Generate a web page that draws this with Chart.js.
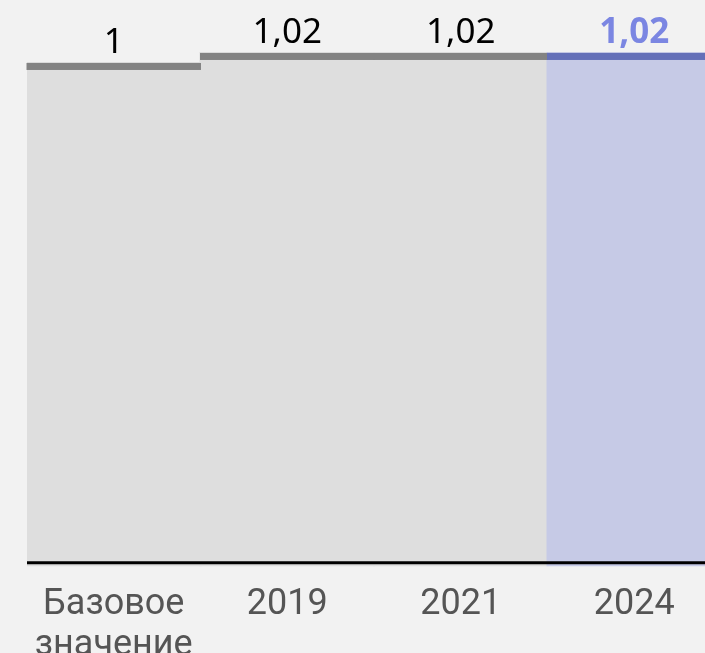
<!DOCTYPE html>
<html>
<head>
<meta charset="utf-8">
<script src="https://cdn.jsdelivr.net/npm/chart.js@4"></script>
<style>
  html, body { margin: 0; padding: 0; background: #f2f2f2; overflow: hidden; }
  #wrap { width: 730px; height: 685px; }
</style>
</head>
<body>
<div id="wrap"><canvas id="myChart"></canvas></div>
<script>
let categories = [['Базовое', 'значение'], '2019', '2021', '2024'];
let values = [1, 1.02, 1.02, 1.02];

let fillColors = ['#dedede', '#dedede', '#dedede', '#c6cae6'];
let topColors = ['#838383', '#838383', '#838383', '#6470b8'];
let labelColors = ['#000000', '#000000', '#000000', '#7b86e2'];

// top caps, black baseline and value labels drawn on top of the bars
let valueLabels = {
  id: 'valueLabels',
  afterDatasetsDraw(chart) {
    let ctx = chart.ctx;
    let meta = chart.getDatasetMeta(0);
    let area = chart.chartArea;
    let zeroY = chart.scales.y.getPixelForValue(0);
    ctx.save();
    meta.data.forEach(function(bar, i) {
      ctx.fillStyle = topColors[i];
      ctx.fillRect(bar.x - bar.width / 2 - 0.5, bar.y, bar.width + 1, 7);
    });

    ctx.strokeStyle = '#000000';
    ctx.lineWidth = 3;
    ctx.beginPath();
    ctx.moveTo(area.left, zeroY);
    ctx.lineTo(area.right, zeroY);
    ctx.stroke();

    ctx.textAlign = 'center';
    ctx.textBaseline = 'alphabetic';
    meta.data.forEach(function(bar, i) {
      let last = i == values.length - 1;
      ctx.font = (last ? 'bold ' : '') + '35px "Noto Sans"';
      ctx.fillStyle = labelColors[i];
      ctx.fillText(String(values[i]).replace('.', ','), bar.x, bar.y - 10);
    });
    ctx.restore();
  }
};

let ctx = document.getElementById('myChart');
let myChart = new Chart(ctx, {
  type: 'bar',
  data: {
    labels: categories,
    datasets: [{
      data: values,
      base: -0.007,
      backgroundColor: fillColors,
      borderWidth: 0,
      inflateAmount: 1,
      barPercentage: 1,
      categoryPercentage: 1
    }]
  },
  options: {
    responsive: true,
    maintainAspectRatio: false,
    animation: false,
    layout: { padding: { left: 27, right: 9, top: 0, bottom: 0 } },
    plugins: {
      legend: { display: false },
      tooltip: { enabled: false }
    },
    scales: {
      x: {
        grid: { display: false, drawTicks: false },
        border: { display: false },
        ticks: {
          color: '#555555',
          padding: 18,
          maxRotation: 0,
          autoSkip: false,
          font: { family: 'Roboto', size: 36, lineHeight: 1.15 }
        }
      },
      y: {
        display: false,
        min: -0.007,
        max: 1.126
      }
    }
  },
  plugins: [valueLabels]
});
</script>
</body>
</html>
